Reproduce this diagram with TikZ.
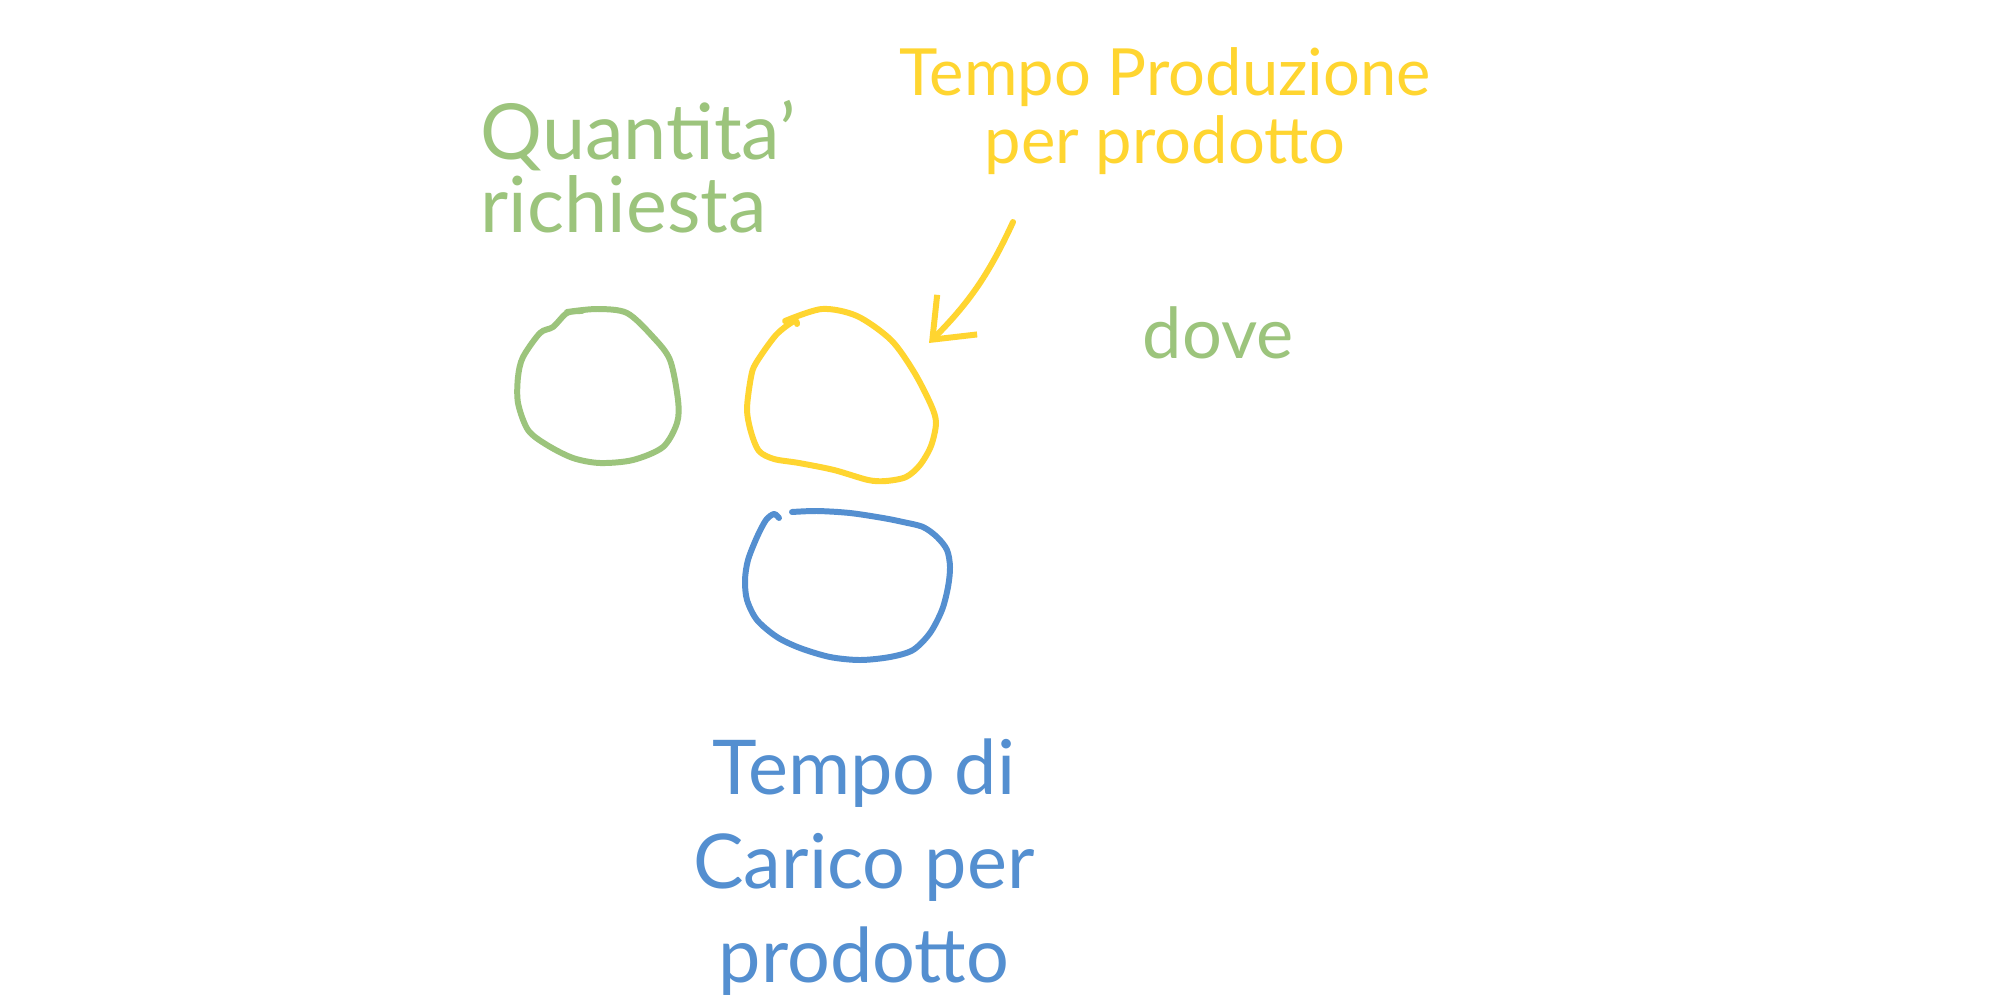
\documentclass[tikz,border=0pt]{standalone}
\usepackage{fontspec}
\setmainfont{Lato}
\usetikzlibrary{arrows.meta,positioning}
\definecolor{hg}{HTML}{9CC47C}
\definecolor{hy}{HTML}{FFD530}
\definecolor{hb}{HTML}{548FD0}

\begin{document}
\begin{tikzpicture}[x=0.01cm,y=-0.01cm,
  pen/.style={line width=1.7pt,line cap=round,line join=round},
  lbl/.style={inner sep=0pt},
  arrow/.style={pen,-{Straight Barb[length=10pt,width=16pt]}}]
\useasboundingbox[fill=white](0,0)rectangle(2013,1000);
% the three circles
\draw[pen,hg] plot[smooth] coordinates{(567,312)(597,309)(627,313)(653,337)(670,360)(678,400)(677,423)(663,447)(633,460)(600,463)(573,458)(547,445)(528,430)(518,403)(518,377)(523,357)(540,333)(553,327)(567,313)(582,311)};
\draw[pen,hy] plot[smooth] coordinates{(785,321)(822,309)(857,316)(891,340)(914,372)(931,405)(936,423)(931,446)(920,465)(906,477)(886,481)(868,480)(834,470)(799,463)(774,459)(759,451)(751,432)(747,409)(751,377)(756,363)(776,335)(794,321)(797,324)};
\draw[pen,hb] plot[smooth] coordinates{(779,518)(774,514)(766,520)(757,537)(748,560)(745,580)(747,600)(757,620)(777,637)(800,648)(830,657)(860,660)(890,657)(913,650)(930,633)(942,610)(948,587)(950,567)(947,550)(937,537)(923,527)(903,522)(883,518)(850,513)(817,511)(792,512)};
% labels
\node[lbl,hg,align=left,anchor=north west,font=\fontsize{22}{20.7}\selectfont](qty) at (480,100){Quantita'\\richiesta};
\node[lbl,hy,align=center,anchor=north,font=\fontsize{18.5}{19.3}\selectfont](tprod) at (1165,47){Tempo Produzione\\per prodotto};
\node[lbl,hg,anchor=base west,font=\fontsize{20}{20}\selectfont](dove) at (1142,358){dove};
\node[lbl,hb,align=center,anchor=north,font=\fontsize{21.5}{26.7}\selectfont](tcar) at (864,738){Tempo di\\Carico per\\prodotto};
% arrow
\coordinate(atail) at (1013,222);
\coordinate(atip) at (929,343);
\draw[arrow,hy](atail) to[bend left=10](atip);
\end{tikzpicture}
\end{document}
